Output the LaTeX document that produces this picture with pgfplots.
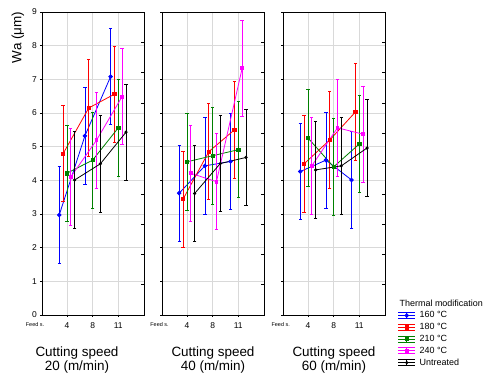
\documentclass[border=0pt]{standalone}
\usepackage{fontspec}
\setmainfont{Liberation Sans}
\usepackage{pgfplots}
\pgfplotsset{compat=1.18}
\definecolor{cblue}{RGB}{0,0,255}
\definecolor{cred}{RGB}{255,0,0}
\definecolor{cgreen}{RGB}{0,128,0}
\definecolor{cmag}{RGB}{255,0,255}
\definecolor{cgrid}{RGB}{217,217,217}

\pgfplotsset{
 panel/.style={
  scale only axis, width=102bp, height=303bp,
  xmin=0.03, xmax=4, ymin=0, ymax=9,
  xtick={1,2,3}, xticklabels={4,8,11},
  ytick={0,...,9},
  tick align=outside, major tick length=2bp,
  xtick pos=bottom, ytick pos=left,
  grid=major, major grid style={cgrid, line width=0.8bp},
  axis line style={line width=0.9bp},
  every tick/.style={black, line width=0.6bp},
  tick label style={font=\fontsize{8.5}{10}\selectfont, inner sep=0pt},
  /pgf/number format/assume math mode=true,
  xticklabel style={yshift=-5bp},
  yticklabel style={xshift=-3bp},
  anchor=south west,
  clip=false,
 },
 ser/.style={color=#1, line width=0.8bp, mark options={solid, fill=#1},
   error bars/y dir=both, error bars/y explicit,
   error bars/error mark=-,
   error bars/error bar style={line width=0.8bp, #1},
   error bars/error mark options={rotate=90, mark size=1.7bp, line width=0.8bp, #1}},
}

\newcommand{\rticks}{\pgfplotsinvokeforeach{1,...,9}{\draw[line width=0.6bp] (rel axis cs:1,0.##1) -- ++(-2bp,0);}}

% panel 1 (20 m/min)
\pgfplotstableread{
x y e
0.70 2.97 1.43
1.70 5.32 1.43
2.70 7.08 1.43
}\Abl
\pgfplotstableread{
x y e
0.85 4.79 1.43
1.85 6.15 1.43
2.85 6.56 1.43
}\Are
\pgfplotstableread{
x y e
1.00 4.21 1.43
2.00 4.60 1.43
3.00 5.56 1.43
}\Agr
\pgfplotstableread{
x y e
1.15 4.10 1.43
2.15 5.19 1.43
3.15 6.49 1.43
}\Ama
\pgfplotstableread{
x y e
1.30 4.01 1.43
2.30 4.49 1.43
3.30 5.43 1.43
}\Abk
% panel 2 (40 m/min)
\pgfplotstableread{
x y e
0.70 3.62 1.43
1.70 4.43 1.43
2.70 4.56 1.43
}\Bbl
\pgfplotstableread{
x y e
0.85 3.44 1.43
1.85 4.85 1.43
2.85 5.50 1.43
}\Bre
\pgfplotstableread{
x y e
1.00 4.55 1.43
2.00 4.73 1.43
3.00 4.91 1.43
}\Bgr
\pgfplotstableread{
x y e
1.15 4.21 1.43
2.15 3.96 1.43
3.15 7.33 1.43
}\Bma
\pgfplotstableread{
x y e
1.30 3.61 1.43
2.30 4.50 1.43
3.30 4.68 1.43
}\Bbk
% panel 3 (60 m/min)
\pgfplotstableread{
x y e
0.70 4.26 1.43
1.70 4.60 1.43
2.70 4.01 1.43
}\Cbl
\pgfplotstableread{
x y e
0.85 4.49 1.43
1.85 5.20 1.43
2.85 6.03 1.43
}\Cre
\pgfplotstableread{
x y e
1.00 5.26 1.43
2.00 4.40 1.43
3.00 5.08 1.43
}\Cgr
\pgfplotstableread{
x y e
1.15 4.43 1.43
2.15 5.56 1.43
3.15 5.37 1.43
}\Cma
\pgfplotstableread{
x y e
1.30 4.31 1.43
2.30 4.43 1.43
3.30 4.96 1.43
}\Cbk

\begin{document}
\begin{tikzpicture}
\path[use as bounding box] (0,0) rectangle (496bp,374bp);

\begin{axis}[panel, at={(42bp,59bp)}]
\addplot[ser=cblue, mark=*, mark size=1.8bp] table[y error=e] {\Abl};
\addplot[ser=cred, mark=square*, mark size=1.7bp] table[y error=e] {\Are};
\addplot[ser=cgreen, mark=square*, mark size=1.7bp] table[y error=e] {\Agr};
\addplot[ser=cmag, mark=square*, mark size=1.4bp] table[y error=e] {\Ama};
\addplot[ser=black, mark=*, mark size=1.2bp] table[y error=e] {\Abk};
\rticks
\end{axis}

\begin{axis}[panel, at={(162bp,59bp)}, yticklabels={}]
\addplot[ser=cblue, mark=*, mark size=1.8bp] table[y error=e] {\Bbl};
\addplot[ser=cred, mark=square*, mark size=1.7bp] table[y error=e] {\Bre};
\addplot[ser=cgreen, mark=square*, mark size=1.7bp] table[y error=e] {\Bgr};
\addplot[ser=cmag, mark=square*, mark size=1.4bp] table[y error=e] {\Bma};
\addplot[ser=black, mark=*, mark size=1.2bp] table[y error=e] {\Bbk};
\rticks
\end{axis}

\begin{axis}[panel, at={(283bp,59bp)}, yticklabels={},
  legend image code/.code={
    \draw[#1,mark=none] (0bp,3bp) -- (17bp,3bp) (0bp,-3bp) -- (17bp,-3bp)
       (8.5bp,-3bp) -- (8.5bp,3bp) (0bp,0bp) -- (17bp,0bp);
    \draw[#1] plot coordinates {(8.5bp,0bp)};
  },
  legend style={at={(1.124,0.053)}, anchor=north west, draw=none, fill=none,
    inner sep=0pt, font=\fontsize{9}{10}\selectfont, legend cell align=left,
    row sep=2.8bp, column sep=4bp,
    nodes={inner sep=0pt, text height=7bp, text depth=2bp}},
]
\addlegendimage{empty legend}
\addlegendentry{\hspace*{-20bp}Thermal modification}
\addplot[ser=cblue, mark=*, mark size=1.8bp] table[y error=e] {\Cbl};
\addlegendentry{160 °C}
\addplot[ser=cred, mark=square*, mark size=1.7bp] table[y error=e] {\Cre};
\addlegendentry{180 °C}
\addplot[ser=cgreen, mark=square*, mark size=1.7bp] table[y error=e] {\Cgr};
\addlegendentry{210 °C}
\addplot[ser=cmag, mark=square*, mark size=1.4bp] table[y error=e] {\Cma};
\addlegendentry{240 °C}
\addplot[ser=black, mark=*, mark size=1.2bp] table[y error=e] {\Cbk};
\addlegendentry{Untreated}
\rticks
\end{axis}

\node[rotate=90, font=\fontsize{13.5}{14}\selectfont] at (18bp,336.5bp) {Wa (μm)};

\foreach \xx in {35,159.5,280.7}
  \node[font=\fontsize{5.5}{6}\selectfont, anchor=base, inner sep=0pt] at (\xx bp,47.3bp) {Feed s.};

\foreach \xx/\v in {77/20,213/40,334/60}{
  \node[font=\fontsize{13.5}{14}\selectfont, anchor=base, inner sep=0pt] at (\xx bp,17.3bp) {Cutting speed};
  \node[font=\fontsize{13.5}{14}\selectfont, anchor=base, inner sep=0pt] at (\xx bp,3.3bp) {\v\ (m/min)};
}
\end{tikzpicture}
\end{document}
